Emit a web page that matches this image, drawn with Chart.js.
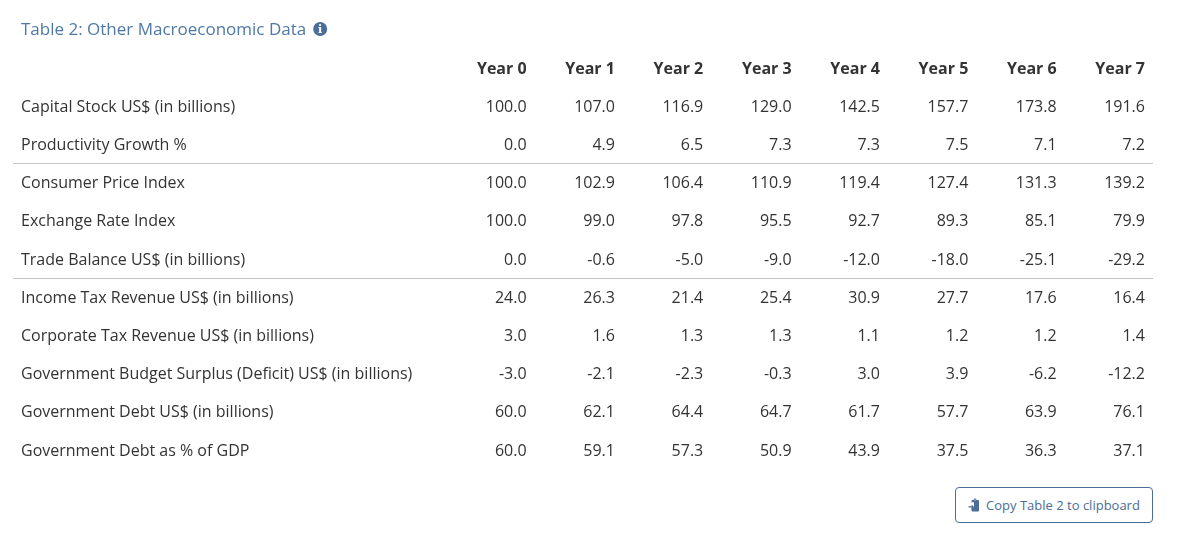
<!DOCTYPE html>
<html>
<head>
<meta charset="utf-8">
<script src="https://cdn.jsdelivr.net/npm/chart.js@4.4.1/dist/chart.umd.min.js"></script>
<style>
  html, body { margin: 0; padding: 0; background: #ffffff; }
  #wrap { position: relative; width: 1193px; height: 543px; overflow: hidden; }
  #chart { position: absolute; left: 0; top: 0; }
  #copyBtn {
    position: absolute; left: 955px; top: 487px; width: 198px; height: 36px;
    box-sizing: border-box; border: 1px solid #4b6d97; border-radius: 4px;
    background: #ffffff; color: #4b6d97; font-family: "Open Sans", sans-serif;
    font-size: 13px; padding: 0 0 1px 0; display: flex; align-items: center; justify-content: center;
    gap: 5px; cursor: pointer;
  }
  #copyBtn svg { display: block; }
</style>
</head>
<body>
<div id="wrap">
  <canvas id="chart" width="1193" height="543"></canvas>
  <button id="copyBtn">
    <svg width="13" height="14" viewBox="0 0 13 14">
      <path d="M4 2 h1.6 a1.4 1.4 0 0 1 2.8 0 H10 a1 1 0 0 1 1 1 V12.5 a1 1 0 0 1 -1 1 H4.5 a1 1 0 0 1 -1 -1 V9.5 H6 V4.2 H3.5 V3 a1 1 0 0 1 0.5 -1z" fill="#4b6d97"/>
      <path d="M0.5 8.2 h3.2 v-1.6 l2.4 2.3 l-2.4 2.3 v-1.6 h-3.2z" fill="#4b6d97"/>
      <circle cx="7" cy="2" r="0.6" fill="#ffffff"/>
    </svg>
    <span>Copy Table 2 to clipboard</span>
  </button>
</div>
<script>
const tableTitle = "Table 2: Other Macroeconomic Data";
const years = ["Year 0", "Year 1", "Year 2", "Year 3", "Year 4", "Year 5", "Year 6", "Year 7"];
const rowLabels = [
  "Capital Stock US$ (in billions)",
  "Productivity Growth %",
  "Consumer Price Index",
  "Exchange Rate Index",
  "Trade Balance US$ (in billions)",
  "Income Tax Revenue US$ (in billions)",
  "Corporate Tax Revenue US$ (in billions)",
  "Government Budget Surplus (Deficit) US$ (in billions)",
  "Government Debt US$ (in billions)",
  "Government Debt as % of GDP"
];
const capitalStock      = [100.0, 107.0, 116.9, 129.0, 142.5, 157.7, 173.8, 191.6];
const productivityGrowth = [0.0, 4.9, 6.5, 7.3, 7.3, 7.5, 7.1, 7.2];
const consumerPriceIndex = [100.0, 102.9, 106.4, 110.9, 119.4, 127.4, 131.3, 139.2];
const exchangeRateIndex  = [100.0, 99.0, 97.8, 95.5, 92.7, 89.3, 85.1, 79.9];
const tradeBalance       = [0.0, -0.6, -5.0, -9.0, -12.0, -18.0, -25.1, -29.2];
const incomeTaxRevenue   = [24.0, 26.3, 21.4, 25.4, 30.9, 27.7, 17.6, 16.4];
const corporateTaxRevenue = [3.0, 1.6, 1.3, 1.3, 1.1, 1.2, 1.2, 1.4];
const budgetSurplus      = [-3.0, -2.1, -2.3, -0.3, 3.0, 3.9, -6.2, -12.2];
const governmentDebt     = [60.0, 62.1, 64.4, 64.7, 61.7, 57.7, 63.9, 76.1];
const debtPctGdp         = [60.0, 59.1, 57.3, 50.9, 43.9, 37.5, 36.3, 37.1];
const groupBreaksAfter   = [2, 5]; // separator lines after these row numbers

const rowValues = [capitalStock, productivityGrowth, consumerPriceIndex, exchangeRateIndex,
  tradeBalance, incomeTaxRevenue, corporateTaxRevenue, budgetSurplus, governmentDebt, debtPctGdp];

const FONT = '"Open Sans", "Noto Sans", sans-serif';
const TEXT = '#333333';
const TEXT_DY = 2;

const datasets = rowValues.map((vals, r) => ({
  label: rowLabels[r],
  data: vals.map((v, i) => ({ x: i, y: r + 1, v: v })),
  pointRadius: 0,
  pointHoverRadius: 0,
  showLine: false
}));
// header row
datasets.push({
  label: 'header',
  data: years.map((y, i) => ({ x: i, y: 0, t: y })),
  pointRadius: 0, pointHoverRadius: 0, showLine: false
});

const tablePlugin = {
  id: 'tablePlugin',
  afterDatasetsDraw(chart) {
    const ctx = chart.ctx;
    const xs = chart.scales.x, ys = chart.scales.y;
    const area = chart.chartArea;
    ctx.save();
    // title
    ctx.font = '17px ' + FONT;
    ctx.fillStyle = '#4e79a6';
    ctx.textAlign = 'left';
    ctx.textBaseline = 'middle';
    const titleY = ys.getPixelForValue(-1.02) + TEXT_DY;
    ctx.fillText(tableTitle, area.left + 8, titleY);
    const tw = ctx.measureText(tableTitle).width;
    // info icon
    const cx = area.left + 8 + tw + 14, cy = titleY - 1;
    ctx.beginPath();
    ctx.arc(cx, cy, 7, 0, Math.PI * 2);
    ctx.fillStyle = '#4a6e99';
    ctx.fill();
    ctx.fillStyle = '#ffffff';
    ctx.font = 'bold 11px "DejaVu Serif", serif';
    ctx.textAlign = 'center';
    ctx.fillText('i', cx, cy + 1);

    // separators
    ctx.strokeStyle = '#c4c4c4';
    ctx.lineWidth = 1;
    groupBreaksAfter.forEach(r => {
      const y = Math.round(ys.getPixelForValue(r + 0.5)) + 1.5;
      ctx.beginPath();
      ctx.moveTo(area.left, y);
      ctx.lineTo(area.right, y);
      ctx.stroke();
    });

    // row labels
    ctx.font = '16px ' + FONT;
    ctx.fillStyle = TEXT;
    ctx.textAlign = 'left';
    rowLabels.forEach((lab, r) => {
      ctx.fillText(lab, area.left + 8, ys.getPixelForValue(r + 1) + TEXT_DY);
    });

    // cells
    ctx.textAlign = 'right';
    chart.data.datasets.forEach((ds, di) => {
      const meta = chart.getDatasetMeta(di);
      meta.data.forEach((pt, i) => {
        const d = ds.data[i];
        if (d.t !== undefined) {
          ctx.font = 'bold 16px ' + FONT;
          ctx.fillText(d.t, pt.x, pt.y + TEXT_DY);
        } else {
          ctx.font = '16px ' + FONT;
          ctx.fillText(d.v.toFixed(1), pt.x, pt.y + TEXT_DY);
        }
      });
    });
    ctx.restore();
  }
};

new Chart(document.getElementById('chart'), {
  type: 'scatter',
  data: { datasets },
  options: {
    responsive: false,
    animation: false,
    events: [],
    layout: { padding: { left: 13, right: 40, top: 0, bottom: 0 } },
    plugins: { legend: { display: false }, tooltip: { enabled: false }, title: { display: false } },
    scales: {
      x: { type: 'linear', display: false, min: -5.814, max: 7.091 },
      y: { type: 'linear', display: false, reverse: true, min: -1.754, max: 12.461 }
    }
  },
  plugins: [tablePlugin]
});
</script>
</body>
</html>
